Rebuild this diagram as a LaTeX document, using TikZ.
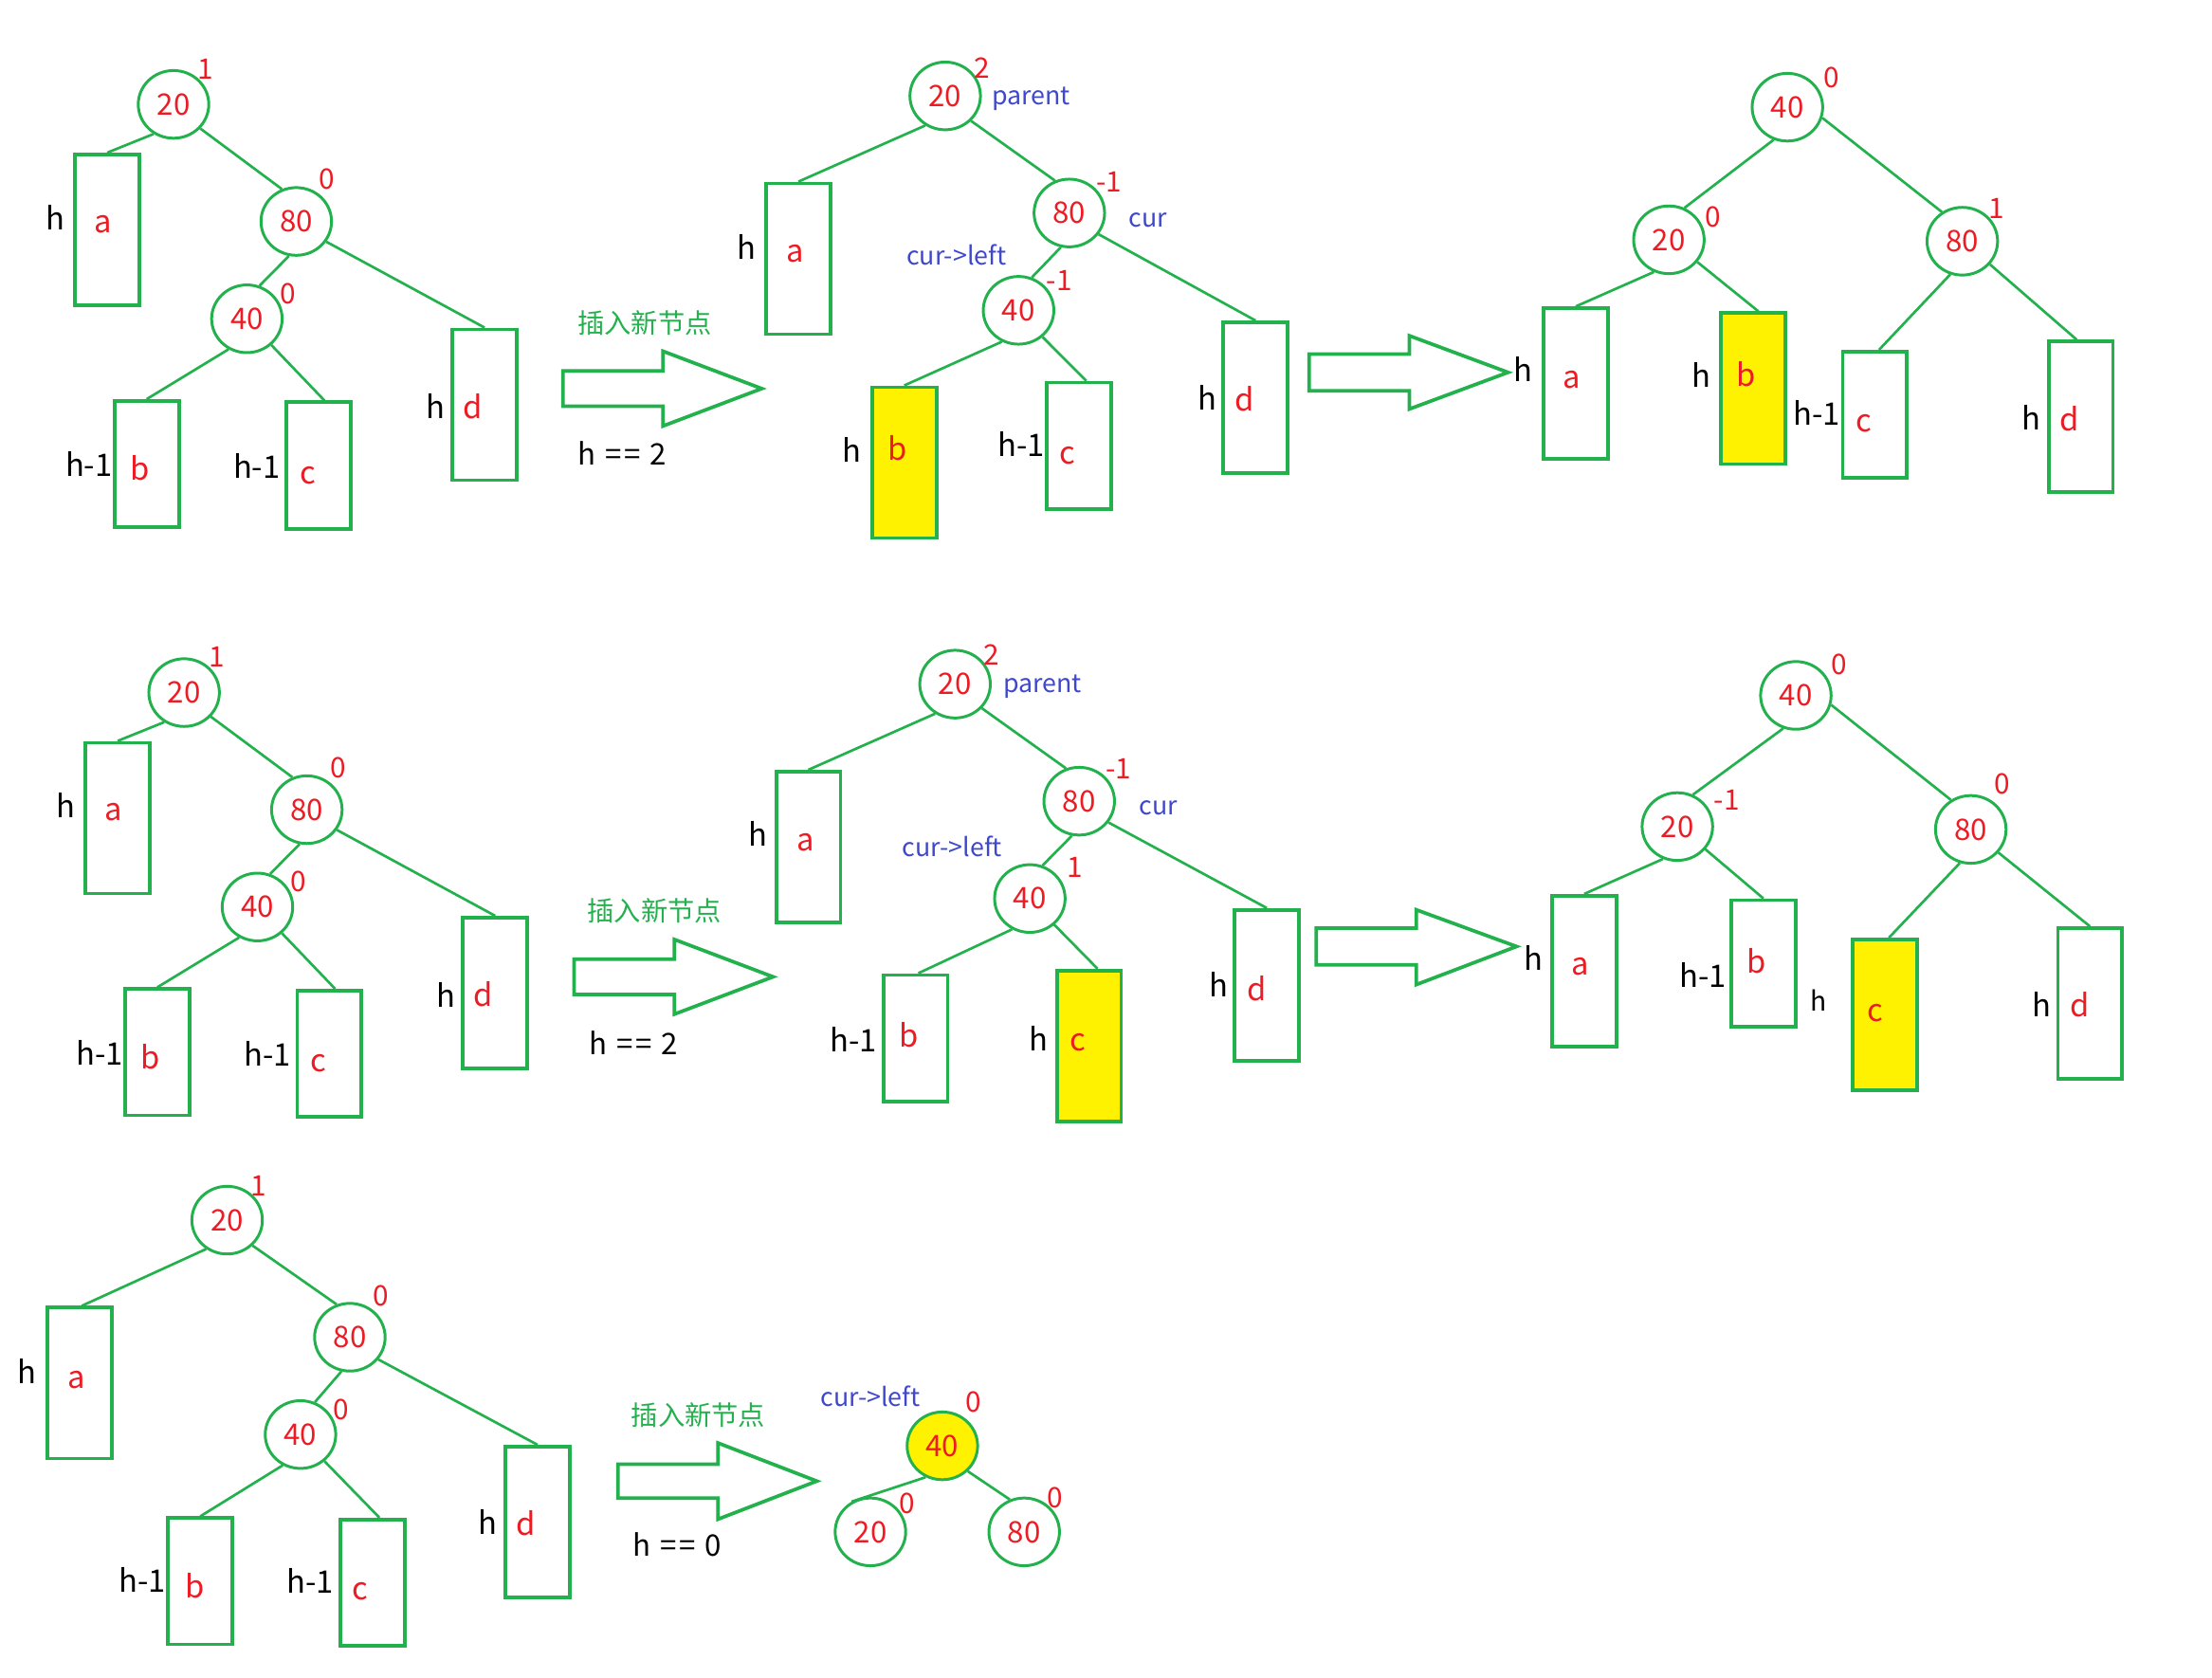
\documentclass[tikz,border=0pt]{standalone}
\usepackage{fontspec}
\setmainfont{Noto Sans CJK SC}
\usetikzlibrary{shapes.geometric}
\definecolor{pg}{HTML}{22B14C}
\definecolor{pr}{HTML}{ED1C24}
\definecolor{pb}{HTML}{3F48CC}
\definecolor{py}{HTML}{FFF200}
\newcommand{\heq}[1]{h\hspace{0.3em}=\kern1pt=\hspace{0.3em}#1}
\begin{document}
\begin{tikzpicture}[x=0.5pt,y=-0.5pt,
  cnode/.style={draw=pg, line width=1pt, ellipse, minimum width=25pt, minimum height=24pt, inner sep=0pt, text=pr, font=\fontsize{10.5}{12}\selectfont},
  tbox/.style={draw=pg, line width=1.25pt, rectangle, minimum width=22.8pt, inner sep=0pt},
  hbox/.style={tbox, minimum height=53.5pt},
  lbox/.style={tbox, minimum height=44.8pt},
  ybox/.style={fill=py},
  conn/.style={draw=pg, line width=0.9pt},
  bigarrow/.style={draw=pg, line width=1.25pt, line join=miter},
  bal/.style={text=pr, font=\fontsize{10}{11}\selectfont, inner sep=0pt},
  hl/.style={text=black, font=\fontsize{11}{12}\selectfont, inner sep=0pt},
  bl/.style={text=pr, font=\fontsize{11}{12}\selectfont, inner sep=0pt},
  ptr/.style={text=pb, font=\fontsize{9}{10}\selectfont, inner sep=0pt},
  captxt/.style={text=pg, font=\fontsize{9.5}{11}\selectfont, inner sep=0pt},
  eqn/.style={text=black, font=\fontsize{10.5}{12}\selectfont, inner sep=0pt},
]
\useasboundingbox (0,0) rectangle (1568,1189);

% ================= Row 1 left (p)
\node[cnode] (p20) at (123,74) {20};
\node[cnode] (p80) at (210,157) {80};
\node[cnode] (p40) at (175,226) {40};
\node[bal] (p20b) at (146,49) {1};
\node[bal] (p80b) at (232,127) {0};
\node[bal] (p40b) at (204,208) {0};
\node[hbox] (pa) at (76,163) {};
\node[lbox] (pb) at (104,329) {};
\node[lbox] (pc) at (226,330) {};
\node[hbox] (pd) at (343.5,287) {};
\node[bl] (pat) at (73,159) {a};
\node[bl] (pbt) at (99,332) {b};
\node[bl] (pct) at (218,337) {c};
\node[bl] (pdt) at (335,288) {d};
\node[hl] (pah) at (39,154) {h};
\node[hl] (pbh) at (63,329) {h-1};
\node[hl] (pch) at (182,330) {h-1};
\node[hl] (pdh) at (309,288) {h};
\draw[conn] (p20.236) -- (pa.north);
\draw[conn] (p20.318) -- (p80.114);
\draw[conn] (p80.258) -- (p40.69);
\draw[conn] (p80.326) -- (pd.north);
\draw[conn] (p40.239) -- (pb.north);
\draw[conn] (p40.313) -- ([xshift=2pt]pc.north);

\node[captxt] (cap1) at (457,229) {插入新节点};
\node[eqn] (eq1) at (441,321) {\heq{2}};
\draw[bigarrow] (399,263) -- (470,263) -- (470,249) -- (540,275.5) -- (470,302) -- (470,288) -- (399,288) -- cycle;

% ================= Row 1 middle (q)
\node[cnode] (q20) at (670,68) {20};
\node[cnode] (q80) at (758,151) {80};
\node[cnode] (q40) at (722,220) {40};
\node[bal] (q20b) at (696,48) {2};
\node[bal] (q80b) at (786,129) {-1};
\node[bal] (q40b) at (751,199) {-1};
\node[ptr] (qpar) at (731,70) {parent};
\node[ptr] (qcur) at (814,156) {cur};
\node[ptr] (qcl) at (678,181) {cur->left};
\node[hbox] (qa) at (566,183.5) {};
\node[hbox,ybox] (qb) at (641,328) {};
\node[lbox] (qc) at (765,316) {};
\node[hbox] (qd) at (890,282) {};
\node[bl] (qat) at (564,180) {a};
\node[bl] (qbt) at (636,318) {b};
\node[bl] (qct) at (757,323) {c};
\node[bl] (qdt) at (882,283) {d};
\node[hl] (qah) at (529,175) {h};
\node[hl] (qbh) at (604,319) {h};
\node[hl] (qch) at (724,315) {h-1};
\node[hl] (qdh) at (856,282) {h};
\draw[conn] (q20.236) -- (qa.north);
\draw[conn] (q20.316) -- (q80.114);
\draw[conn] (q80.256) -- (q40.68);
\draw[conn] (q80.324) -- (qd.north);
\draw[conn] (q40.242) -- (qb.north);
\draw[conn] (q40.312) -- ([xshift=2.5pt]qc.north);

\draw[bigarrow] (928,251) -- (999,251) -- (999,238) -- (1069,264) -- (999,290) -- (999,277) -- (928,277) -- cycle;

% ================= Row 1 right (r)
\node[cnode] (r40) at (1267,76) {40};
\node[cnode] (r20) at (1183,170) {20};
\node[cnode] (r80) at (1391,171) {80};
\node[bal] (r40b) at (1298,55) {0};
\node[bal] (r20b) at (1214,154) {0};
\node[bal] (r80b) at (1415,148) {1};
\node[hbox] (ra) at (1117,272) {};
\node[hbox,ybox] (rb) at (1242.5,275.5) {};
\node[lbox] (rc) at (1329,294) {};
\node[hbox] (rd) at (1475,295.5) {};
\node[bl] (rat) at (1114,269) {a};
\node[bl] (rbt) at (1238,265) {b};
\node[bl] (rct) at (1321,300) {c};
\node[bl] (rdt) at (1467,297) {d};
\node[hl] (rah) at (1080,262) {h};
\node[hl] (rbh) at (1206,266) {h};
\node[hl] (rch) at (1288,293) {h-1};
\node[hl] (rdh) at (1440,296) {h};
\draw[conn] (r40.247) -- (r20.64);
\draw[conn] (r40.343) -- (r80.125);
\draw[conn] (r20.245) -- (ra.north);
\draw[conn] (r20.322) -- ([xshift=2pt]rb.north);
\draw[conn] (r80.250) -- ([xshift=1.5pt]rc.north);
\draw[conn] (r80.320) -- ([xshift=-1.5pt]rd.north);

% ================= Row 2 left (s)
\node[cnode] (s20) at (130.5,491) {20};
\node[cnode] (s80) at (217.5,574) {80};
\node[cnode] (s40) at (182.5,643) {40};
\node[bal] (s20b) at (153.5,466) {1};
\node[bal] (s80b) at (239.5,544) {0};
\node[bal] (s40b) at (211.5,625) {0};
\node[hbox] (sa) at (83.5,580) {};
\node[lbox] (sb) at (111.5,746) {};
\node[lbox] (sc) at (233.5,747) {};
\node[hbox] (sd) at (351,704) {};
\node[bl] (sat) at (80.5,576) {a};
\node[bl] (sbt) at (106.5,749) {b};
\node[bl] (sct) at (225.5,754) {c};
\node[bl] (sdt) at (342.5,705) {d};
\node[hl] (sah) at (46.5,571) {h};
\node[hl] (sbh) at (70.5,746) {h-1};
\node[hl] (sch) at (189.5,747) {h-1};
\node[hl] (sdh) at (316.5,705) {h};
\draw[conn] (s20.236) -- (sa.north);
\draw[conn] (s20.318) -- (s80.114);
\draw[conn] (s80.258) -- (s40.69);
\draw[conn] (s80.326) -- (sd.north);
\draw[conn] (s40.239) -- (sb.north);
\draw[conn] (s40.313) -- ([xshift=2pt]sc.north);

\node[captxt] (cap2) at (464,646) {插入新节点};
\node[eqn] (eq2) at (449,739) {\heq{2}};
\draw[bigarrow] (407,680) -- (478,680) -- (478,666) -- (548,692.5) -- (478,719) -- (478,705) -- (407,705) -- cycle;

% ================= Row 2 middle (t)
\node[cnode] (t20) at (677,485) {20};
\node[cnode] (t80) at (765,568) {80};
\node[cnode] (t40) at (730,637) {40};
\node[bal] (t20b) at (703,464) {2};
\node[bal] (t80b) at (793,545) {-1};
\node[bal] (t40b) at (762,615) {1};
\node[ptr] (tpar) at (739,487) {parent};
\node[ptr] (tcur) at (821,573) {cur};
\node[ptr] (tcl) at (675,600) {cur->left};
\node[hbox] (ta) at (573,600.5) {};
\node[lbox] (tb) at (649,736) {};
\node[hbox,ybox] (tc) at (772,741.5) {};
\node[hbox] (td) at (898,698.5) {};
\node[bl] (tat) at (571,597) {a};
\node[bl] (tbt) at (644,734) {b};
\node[bl] (tct) at (764,739) {c};
\node[bl] (tdt) at (891,701) {d};
\node[hl] (tah) at (537,591) {h};
\node[hl] (tbh) at (605,737) {h-1};
\node[hl] (tch) at (736,736) {h};
\node[hl] (tdh) at (864,698) {h};
\draw[conn] (t20.236) -- (ta.north);
\draw[conn] (t20.318) -- (t80.112);
\draw[conn] (t80.258) -- (t40.69);
\draw[conn] (t80.324) -- (td.north);
\draw[conn] (t40.240) -- ([xshift=1pt]tb.north);
\draw[conn] (t40.313) -- ([xshift=3pt]tc.north);

\draw[bigarrow] (933,658) -- (1004,658) -- (1004,645) -- (1075,671) -- (1004,698) -- (1004,684) -- (933,684) -- cycle;

% ================= Row 2 right (u)
\node[cnode] (u40) at (1273,493) {40};
\node[cnode] (u20) at (1189,586) {20};
\node[cnode] (u80) at (1397,588) {80};
\node[bal] (u40b) at (1304,471) {0};
\node[bal] (u20b) at (1224,567) {-1};
\node[bal] (u80b) at (1419,556) {0};
\node[hbox] (ua) at (1123,688.5) {};
\node[lbox] (ub) at (1250,683) {};
\node[hbox,ybox] (uc) at (1336,719.5) {};
\node[hbox] (ud) at (1481.5,711.5) {};
\node[bl] (uat) at (1120,685) {a};
\node[bl] (ubt) at (1245,681) {b};
\node[bl] (uct) at (1329,718) {c};
\node[bl] (udt) at (1474,712) {d};
\node[hl] (uah) at (1087,679) {h};
\node[hl] (ubh) at (1207,691) {h-1};
\node[hl,font=\fontsize{9.5}{10}\selectfont] (uch) at (1289,709) {h};
\node[hl] (udh) at (1447,712) {h};
\draw[conn] (u40.249) -- (u20.64);
\draw[conn] (u40.345) -- (u80.124);
\draw[conn] (u20.246) -- (ua.north);
\draw[conn] (u20.321) -- (ub.north);
\draw[conn] (u80.252) -- ([xshift=1.5pt]uc.north);
\draw[conn] (u80.320) -- (ud.north);

% ================= Row 3 left (v)
\node[cnode] (v20) at (161,865) {20};
\node[cnode] (v80) at (248,948) {80};
\node[cnode] (v40) at (213,1017) {40};
\node[bal] (v20b) at (183,841) {1};
\node[bal] (v80b) at (270,919) {0};
\node[bal] (v40b) at (242,999) {0};
\node[hbox] (va) at (56.5,980.5) {};
\node[lbox] (vb) at (142,1121) {};
\node[lbox] (vc) at (264,1122) {};
\node[hbox] (vd) at (381,1079) {};
\node[bl] (vat) at (54,978) {a};
\node[bl] (vbt) at (138,1124) {b};
\node[bl] (vct) at (255,1128) {c};
\node[bl] (vdt) at (373,1080) {d};
\node[hl] (vah) at (19,972) {h};
\node[hl] (vbh) at (101,1120) {h-1};
\node[hl] (vch) at (220,1121) {h-1};
\node[hl] (vdh) at (346,1079) {h};
\draw[conn] (v20.234) -- ([xshift=0.75pt]va.north);
\draw[conn] (v20.315) -- (v80.112);
\draw[conn] (v80.256) -- (v40.66);
\draw[conn] (v80.322) -- (vd.north);
\draw[conn] (v40.240) -- (vb.north);
\draw[conn] (v40.312) -- ([xshift=2.5pt]vc.north);

\node[captxt] (cap3) at (495,1003) {插入新节点};
\node[eqn] (eq3) at (480,1095) {\heq{0}};
\draw[bigarrow] (438,1038) -- (509,1038) -- (509,1023) -- (579,1050) -- (509,1077) -- (509,1062) -- (438,1062) -- cycle;

% ================= Row 3 right (w)
\node[cnode,fill=py] (w40) at (668,1025) {40};
\node[cnode] (w20) at (617,1086) {20};
\node[cnode] (w80) at (726,1086) {80};
\node[bal] (w40b) at (690,994) {0};
\node[bal] (w20b) at (643,1066) {0};
\node[bal] (w80b) at (748,1062) {0};
\node[ptr] (wcl) at (617,990) {cur->left};
\draw[conn] (w40.242) -- (w20.122);
\draw[conn] (w40.315) -- (w80.114);
\end{tikzpicture}
\end{document}
